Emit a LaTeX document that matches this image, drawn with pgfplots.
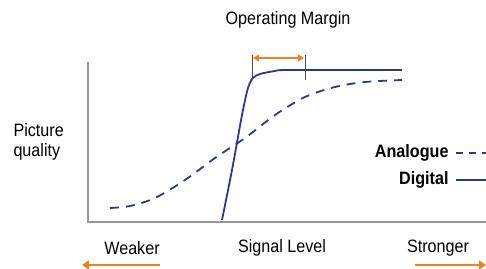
\documentclass[border=0pt]{standalone}
\usepackage{fontspec}
\setmainfont{Liberation Sans}[FakeStretch=0.9]
\usepackage{pgfplots}
\pgfplotsset{compat=1.18}
\usetikzlibrary{arrows.meta}
\definecolor{navy}{RGB}{45,55,145}
\definecolor{orng}{RGB}{240,130,30}
\definecolor{axgray}{RGB}{150,150,150}
\begin{document}
\begin{tikzpicture}
\begin{axis}[
  scale only axis, width=486bp, height=269bp,
  xmin=0, xmax=486, ymin=0, ymax=269,
  hide axis, clip=false,
]
% axes
\addplot[axgray, line width=1.2pt, sharp plot] coordinates {(88,207) (88,47) (486,47)};
% analogue
\addplot[navy, line width=1.8pt, smooth, dash pattern=on 9pt off 7pt] coordinates {
(110,61) (130,63) (155,71) (185,89) (215,111) (245,131) (275,154) (305,172) (335,182) (365,187) (402,189)};
% digital
\addplot[navy, line width=1.8pt, smooth] coordinates {
(222,49) (232,99) (242,154) (248,181) (253,191) (260,195) (275,198) (290,199) (402,199)};
% operating margin markers
\addplot[black!70, line width=0.6pt] coordinates {(252,214) (252,189)};
\addplot[black!70, line width=0.6pt] coordinates {(305,214) (305,189)};
\addplot[orng, line width=2pt, {Triangle[length=6pt,width=7pt]}-{Triangle[length=6pt,width=7pt]}] coordinates {(253,211) (304,211)};
% legend samples
\addplot[navy, line width=1.5pt, dash pattern=on 7pt off 6pt] coordinates {(456,116) (486,116)};
\addplot[navy, line width=1.5pt] coordinates {(456,89) (486,89)};
% bottom arrows
\addplot[orng, line width=2.5pt, -{Triangle[length=7pt,width=9pt]}] coordinates {(160,4) (82,4)};
\addplot[orng, line width=2.5pt, -{Triangle[length=7pt,width=9pt]}] coordinates {(415,4) (486,4)};
% texts
\node[font=\fontsize{18}{20}\selectfont] at (axis cs:288,249) {Operating Margin};
\node[font=\fontsize{18}{20}\selectfont, anchor=west] at (axis cs:10,139) {Picture};
\node[font=\fontsize{18}{20}\selectfont, anchor=west] at (axis cs:10,117) {quality};
\node[font=\bfseries\fontsize{18}{20}\selectfont, anchor=east] at (axis cs:452,116) {Analogue};
\node[font=\bfseries\fontsize{18}{20}\selectfont, anchor=east] at (axis cs:452,89) {Digital};
\node[font=\fontsize{18}{20}\selectfont] at (axis cs:132,21) {Weaker};
\node[font=\fontsize{18}{20}\selectfont] at (axis cs:282,21) {Signal Level};
\node[font=\fontsize{18}{20}\selectfont] at (axis cs:438,21) {Stronger};
\end{axis}
\pgfresetboundingbox
\path (0,0) rectangle (486bp,269bp);
\end{tikzpicture}
\end{document}
